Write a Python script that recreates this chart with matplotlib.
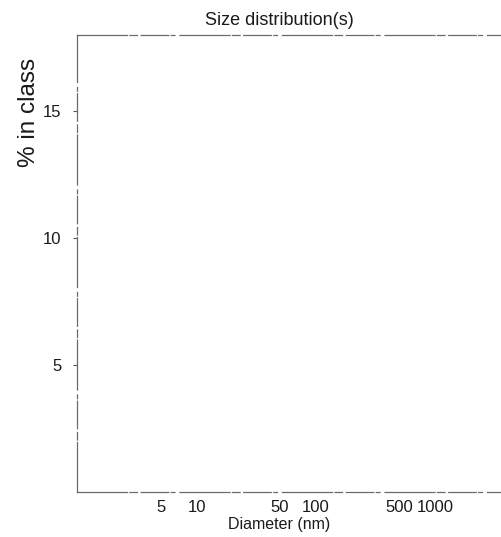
import matplotlib
matplotlib.use("Agg")
from matplotlib import pyplot as plt
import numpy as np

plt.rcParams['font.family'] = ['Liberation Sans', 'DejaVu Sans']

# axis setup (no data series visible)
xTicks = [5, 10, 50, 100, 500, 1000]
xTickLabels = ['5', '10', '50', '100', '500', '1000']
yTicks = [5, 10, 15]
yTickLabels = ['5', '10', '15']
xRange = (1, 3600)
yRange = (0, 18)

fig = plt.figure(figsize=(5.02, 5.37), dpi=100)
ax = fig.add_axes([0.1534, 0.0838, 0.8466, 0.8510])

ax.set_xscale('log')
ax.set_xlim(*xRange)
ax.set_ylim(*yRange)

ax.set_xticks(xTicks)
ax.set_xticklabels(xTickLabels)
ax.xaxis.set_minor_locator(matplotlib.ticker.NullLocator())
ax.set_yticks(yTicks)
ax.set_yticklabels(yTickLabels)

ax.tick_params(axis='x', length=0, pad=6, labelsize=12, colors='#1a1a1a')
ax.tick_params(axis='y', length=3, width=0.8, pad=8, labelsize=12,
               colors='#555555', labelcolor='#1a1a1a')

# faded, broken frame like the scanned original
for side in ['left', 'bottom', 'top']:
    ax.spines[side].set_color('#6a6a6a')
    ax.spines[side].set_linewidth(0.9)
    ax.spines[side].set_linestyle((0, (40, 2, 6, 3, 22, 2, 3, 4)))
ax.spines['right'].set_visible(False)

# title and x label sit a bit left of the axes centre in the scan
ax.set_title('Size distribution(s)', fontsize=13, pad=7, x=0.475, color='#1a1a1a')
ax.set_xlabel('Diameter (nm)', fontsize=11.5, labelpad=1, color='#1a1a1a')
ax.xaxis.label.set_x(0.475)
ax.set_ylabel('% in class', fontsize=17.5, color='#1a1a1a')
ax.yaxis.set_label_coords(-0.087, 0.83)

fig.savefig('out.png', dpi=100)
